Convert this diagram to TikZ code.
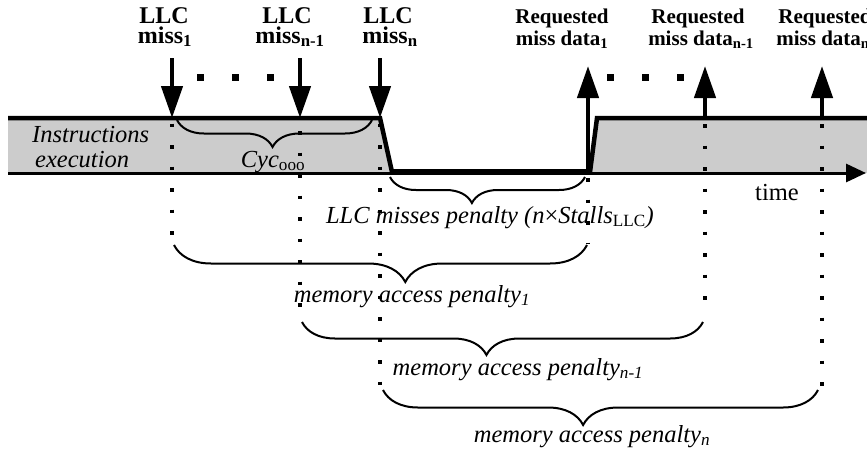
\documentclass[tikz,border=0pt]{standalone}
\usepackage{fontspec}
\setmainfont{Liberation Serif}
\usetikzlibrary{arrows.meta,decorations.pathreplacing}
\begin{document}
\begin{tikzpicture}[x=1pt,y=-1pt,
  txt/.style={inner sep=0pt,anchor=base},
  misslbl/.style={txt,font=\fontsize{24}{28}\selectfont\bfseries},
  reqlbl/.style={txt,font=\fontsize{21}{25}\selectfont\bfseries},
  flat/.style={text depth=0pt},
  itl/.style={txt,font=\fontsize{24.5}{29}\selectfont\itshape},
  rom/.style={txt,font=\fontsize{24.5}{29}\selectfont},
  busy/.style={fill=black!20},
  edge/.style={line width=4.5pt,line join=miter},
  evarrow/.style={line width=4.5pt,-{Triangle[length=32pt,width=21pt]}},
  axis/.style={line width=3pt,-{Triangle[length=20pt,width=18pt]}},
  guide/.style={line width=3.5pt,dash pattern=on 3.5pt off 18pt},
  sq/.style={fill=black,inner sep=0pt,minimum size=7pt},
  brc/.style={decorate,line width=2pt},
]
\useasboundingbox (0,0) rectangle (867,453);

% shaded execution phases
\fill[busy] (8,118) -- (380,118) -- (392,173) -- (8,173) -- cycle;
\fill[busy] (590,173) -- (597,118) -- (867,118) -- (867,173) -- cycle;

% time axis
\coordinate (t0) at (8,173);
\coordinate (t1) at (866,173);
\draw[axis] (t0) -- (t1);

% execution outline with stall period
\coordinate (e0) at (8,118);
\coordinate (e1) at (380,118);
\coordinate (e2) at (392,172);
\coordinate (e3) at (590,172);
\coordinate (e4) at (597,118);
\coordinate (e5) at (867,118);
\draw[edge] (e0) -- (e1) -- (e2) -- (e3) -- (e4) -- (e5);
\draw[line width=6pt] (e2) -- (e3);

% vertical guide lines
\draw[guide] (172,123.5) -- (172,244);
\draw[guide] (300,131) -- (300,312);
\draw[guide] (380,123.5) -- (380,387);
\draw[guide] (588,178) -- (588,243);
\draw[guide] (705,124) -- (705,312);
\draw[guide] (822,124) -- (822,387);

% LLC miss events
\coordinate (a1s) at (172,58);  \coordinate (a1e) at (172,118);
\coordinate (a2s) at (300,58);  \coordinate (a2e) at (300,118);
\coordinate (a3s) at (380,58);  \coordinate (a3e) at (380,118);
\draw[evarrow] (a1s) -- (a1e);
\draw[evarrow] (a2s) -- (a2e);
\draw[evarrow] (a3s) -- (a3e);
\node[sq] (dl1) at (200,77) {};
\node[sq] (dl2) at (235,77) {};
\node[sq] (dl3) at (270,77) {};

% returned data events
\coordinate (r1s) at (588,173); \coordinate (r1e) at (588,66);
\coordinate (r2s) at (705,118); \coordinate (r2e) at (705,66);
\coordinate (r3s) at (822,118); \coordinate (r3e) at (822,66);
\draw[evarrow] (r1s) -- (r1e);
\draw[evarrow] (r2s) -- (r2e);
\draw[evarrow] (r3s) -- (r3e);
\node[sq] (dr1) at (610,77) {};
\node[sq] (dr2) at (645,77) {};
\node[sq] (dr3) at (680,77) {};

% event labels
\node[misslbl,flat] (llc1) at (164,23) {LLC};
\node[misslbl] (miss1) at (165,43) {miss\textsubscript{1}};
\node[misslbl,flat] (llc2) at (287,23) {LLC};
\node[misslbl] (miss2) at (290,43) {miss\textsubscript{n-1}};
\node[misslbl,flat] (llc3) at (388,23) {LLC};
\node[misslbl] (miss3) at (390,43) {miss\textsubscript{n}};
\node[reqlbl,flat] (req1) at (562,23) {Requested};
\node[reqlbl] (dat1) at (562,45) {miss data\textsubscript{1}};
\node[reqlbl,flat] (req2) at (698,23) {Requested};
\node[reqlbl] (dat2) at (701,45) {miss data\textsubscript{n-1}};
\node[reqlbl,flat] (req3) at (825,23) {Requested};
\node[reqlbl] (dat3) at (823,45) {miss data\textsubscript{n}};

% phase labels
\node[itl,anchor=base west] (instr) at (32,142) {Instructions};
\node[itl,anchor=base west] (exec) at (35,167) {execution};
\node[rom,anchor=base west] (time) at (755,200) {time};

% braces
\draw[brc,decoration={brace,mirror,amplitude=27pt,aspect=0.49}] (177,120) -- (372,120);
\node[itl] (cyc) at (273,167) {Cyc\textsubscript{\upshape ooo}};

\draw[brc,decoration={brace,mirror,amplitude=26pt,aspect=0.42}] (390,177) -- (585,177);
\node[itl] (stall) at (490,223) {LLC misses penalty (n{\upshape ×}Stalls\textsubscript{\upshape LLC})};

\draw[brc,decoration={brace,mirror,amplitude=37pt,aspect=0.56}] (174,245) -- (587,245);
\node[itl] (mem1) at (412,302) {memory access penalty\textsubscript{1}};

\draw[brc,decoration={brace,mirror,amplitude=33pt,aspect=0.46}] (302,322) -- (703,322);
\node[itl] (mem2) at (518,375) {memory access penalty\textsubscript{n-1}};

\draw[brc,decoration={brace,mirror,amplitude=35pt,aspect=0.46}] (383,390) -- (818,390);
\node[itl] (mem3) at (592,442) {memory access penalty\textsubscript{n}};
\end{tikzpicture}
\end{document}
